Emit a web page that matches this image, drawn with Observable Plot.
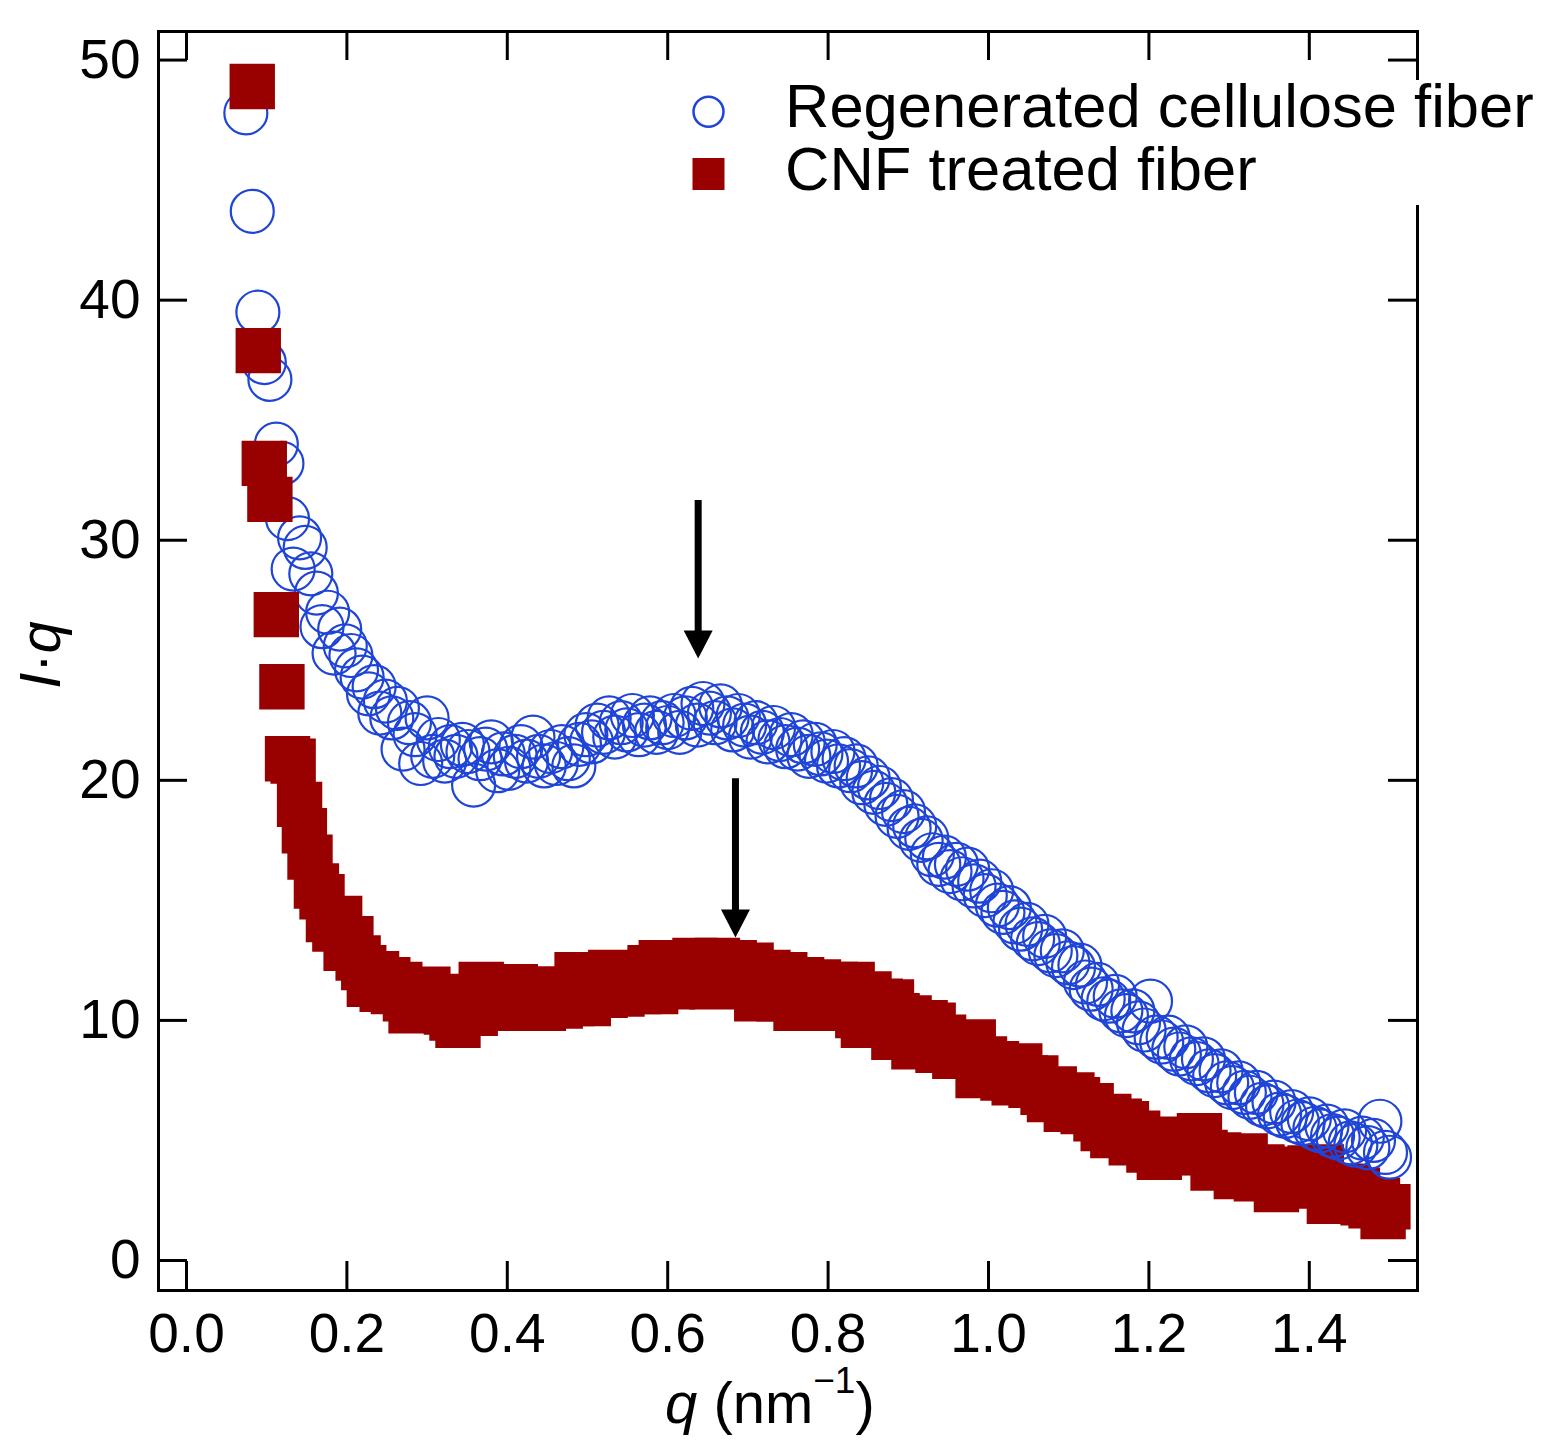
<!DOCTYPE html>
<html>
<head>
<meta charset="utf-8">
<script src="https://cdn.jsdelivr.net/npm/d3@7"></script>
<script src="https://cdn.jsdelivr.net/npm/@observablehq/plot@0.6"></script>
<style>
  html, body { margin: 0; padding: 0; background: #fff; }
</style>
</head>
<body>
<div id="chart"></div>
<script>
// ---------- data ----------
const seriesNames = ["Regenerated cellulose fiber", "CNF treated fiber"];
const xTicks = [0, 0.2, 0.4, 0.6, 0.8, 1.0, 1.2, 1.4];
const yTicks = [0, 10, 20, 30, 40, 50];

// Regenerated cellulose fiber: [q, I·q]
const regeneratedSeries = [
[0.074,47.8],[0.082,43.7],[0.089,39.5],[0.097,37.4],[0.104,36.7],[0.112,34.0],[0.119,33.2],[0.126,30.9],
[0.133,28.8],[0.141,30.1],[0.148,29.7],[0.155,28.6],[0.162,27.8],[0.169,26.4],[0.176,27.0],[0.184,25.3],
[0.191,26.3],[0.198,25.6],[0.205,25.2],[0.212,24.6],[0.219,24.3],[0.227,23.6],[0.234,23.9],[0.241,22.8],
[0.248,23.3],[0.256,22.6],[0.263,23.0],[0.27,21.3],[0.278,22.4],[0.285,21.9],[0.292,20.7],[0.3,22.6],
[0.307,21.0],[0.314,21.7],[0.322,20.8],[0.329,21.4],[0.336,21.0],[0.344,21.5],[0.351,21.2],[0.358,19.8],
[0.366,20.9],[0.373,21.3],[0.38,21.6],[0.388,20.4],[0.395,21.1],[0.402,20.5],[0.41,21.0],[0.417,21.4],
[0.424,20.8],[0.432,21.8],[0.439,21.0],[0.446,20.6],[0.454,21.2],[0.461,20.7],[0.468,21.4],[0.476,20.9],
[0.483,20.6],[0.49,21.5],[0.498,21.9],[0.505,21.6],[0.512,22.3],[0.52,22.0],[0.527,22.6],[0.534,21.8],
[0.542,22.4],[0.549,22.1],[0.556,22.7],[0.564,21.9],[0.571,22.3],[0.578,22.6],[0.586,22.0],[0.593,22.4],
[0.6,22.2],[0.608,22.7],[0.615,22.0],[0.622,22.6],[0.63,23.0],[0.637,22.3],[0.644,23.2],[0.652,22.8],
[0.659,22.4],[0.666,23.1],[0.674,22.6],[0.681,22.1],[0.688,22.7],[0.696,22.3],[0.703,21.8],[0.71,22.4],
[0.718,22.0],[0.725,21.6],[0.732,22.2],[0.74,21.7],[0.747,21.4],[0.754,21.9],[0.762,21.3],[0.769,21.6],
[0.776,21.0],[0.784,21.5],[0.791,21.1],[0.798,20.8],[0.806,21.2],[0.813,20.6],[0.82,20.9],[0.828,20.4],
[0.835,20.6],[0.842,19.9],[0.85,20.1],[0.857,19.5],[0.864,19.7],[0.872,19.0],[0.879,19.2],[0.886,18.5],
[0.894,18.7],[0.901,18.0],[0.908,18.1],[0.916,17.5],[0.923,17.6],[0.93,16.9],[0.938,16.5],[0.945,16.8],
[0.952,16.2],[0.96,16.5],[0.967,15.9],[0.974,16.3],[0.982,15.6],[0.989,15.8],[0.996,15.2],[1.004,15.4],
[1.011,14.8],[1.018,14.5],[1.026,14.7],[1.033,14.1],[1.04,13.8],[1.048,14.0],[1.055,13.4],[1.062,13.2],
[1.07,13.5],[1.077,12.9],[1.084,12.7],[1.092,12.9],[1.099,12.4],[1.106,12.2],[1.114,12.3],[1.121,11.6],
[1.128,11.3],[1.136,11.5],[1.143,10.9],[1.15,10.8],[1.158,11.0],[1.165,10.4],[1.172,10.2],[1.18,10.4],
[1.187,9.9],[1.194,9.6],[1.202,10.8],[1.209,9.3],[1.216,9.1],[1.224,9.3],[1.231,8.8],[1.238,8.6],
[1.246,8.9],[1.253,8.4],[1.26,8.2],[1.268,8.4],[1.275,7.9],[1.282,7.7],[1.29,7.9],[1.297,7.4],
[1.304,7.2],[1.312,7.4],[1.319,7.0],[1.326,6.8],[1.334,7.0],[1.341,6.5],[1.348,6.4],[1.356,6.6],
[1.363,6.1],[1.37,6.0],[1.378,6.2],[1.385,5.8],[1.392,5.7],[1.4,5.9],[1.407,5.5],[1.414,5.4],
[1.422,5.6],[1.429,5.2],[1.436,5.1],[1.444,5.4],[1.451,4.9],[1.458,4.8],[1.466,5.1],[1.473,4.7],
[1.48,5.0],[1.488,5.8],[1.495,4.5],[1.5,4.3]
];

// CNF treated fiber: [q, I·q]
const cnfSeries = [
[0.082,48.9],[0.0895,37.9],[0.097,33.2],[0.104,31.7],[0.112,26.9],[0.119,23.9],[0.126,20.9],[0.133,20.8],
[0.141,19.0],[0.147,17.9],[0.154,16.8],[0.162,15.6],[0.169,15.15],[0.177,14.2],[0.185,13.8],[0.191,14.25],
[0.199,13.0],[0.205,13.4],[0.214,12.6],[0.221,12.2],[0.228,11.5],[0.237,11.95],[0.244,11.3],[0.251,11.7],
[0.258,11.2],[0.266,11.5],[0.273,10.9],[0.28,10.4],[0.287,11.0],[0.294,10.6],[0.301,11.3],[0.308,10.5],
[0.316,10.9],[0.324,10.35],[0.331,10.1],[0.3385,9.8],[0.345,10.5],[0.352,11.0],[0.36,10.3],[0.3675,11.5],
[0.375,10.8],[0.382,11.2],[0.389,10.5],[0.396,11.3],[0.403,10.6],[0.41,11.4],[0.417,10.5],[0.424,11.2],
[0.431,10.8],[0.438,11.3],[0.445,10.5],[0.452,11.0],[0.459,11.3],[0.466,10.6],[0.473,11.1],[0.48,10.7],
[0.487,11.9],[0.494,11.2],[0.501,10.7],[0.508,11.9],[0.515,11.4],[0.522,11.05],[0.529,12.0],[0.536,11.5],
[0.543,11.1],[0.55,11.9],[0.557,11.3],[0.564,11.2],[0.571,11.6],[0.578,12.2],[0.585,11.2],[0.592,12.4],
[0.599,11.6],[0.606,11.4],[0.613,12.4],[0.62,11.7],[0.627,12.0],[0.634,12.5],[0.641,11.7],[0.648,12.1],
[0.655,11.4],[0.662,12.5],[0.669,11.9],[0.676,11.5],[0.683,12.4],[0.69,12.0],[0.697,11.5],[0.704,12.3],
[0.711,10.9],[0.718,11.9],[0.725,12.0],[0.732,11.3],[0.739,10.9],[0.746,11.9],[0.753,11.2],[0.76,10.5],
[0.767,11.7],[0.774,11.1],[0.781,10.6],[0.788,11.6],[0.795,11.0],[0.802,10.5],[0.809,11.5],[0.816,11.0],
[0.823,10.6],[0.83,11.5],[0.837,10.2],[0.844,9.8],[0.851,11.1],[0.858,10.4],[0.865,10.8],[0.872,9.9],
[0.879,10.77],[0.882,9.3],[0.886,10.2],[0.893,9.6],[0.901,10.1],[0.907,8.9],[0.914,9.4],[0.921,9.9],
[0.931,9.8],[0.937,8.75],[0.944,9.3],[0.951,9.0],[0.958,8.5],[0.965,9.0],[0.972,8.6],[0.981,9.1],
[0.987,7.7],[0.995,8.4],[1.002,8.0],[1.01,8.2],[1.018,7.6],[1.025,7.9],[1.032,7.4],[1.039,8.1],
[1.046,7.6],[1.053,7.3],[1.059,7.6],[1.068,7.0],[1.076,6.7],[1.082,7.15],[1.09,6.8],[1.097,6.3],
[1.104,6.9],[1.111,6.7],[1.118,6.2],[1.128,6.45],[1.134,5.9],[1.143,5.5],[1.15,6.0],[1.155,5.2],
[1.163,5.8],[1.172,5.7],[1.178,4.9],[1.186,5.3],[1.193,5.0],[1.2,4.6],[1.207,5.05],[1.213,4.3],
[1.221,4.8],[1.228,4.5],[1.235,4.9],[1.242,4.5],[1.249,4.9],[1.256,4.6],[1.263,5.2],[1.27,4.5],
[1.28,3.85],[1.287,4.4],[1.294,4.0],[1.301,4.3],[1.309,3.5],[1.316,4.1],[1.32,4.35],[1.327,3.7],
[1.334,3.4],[1.341,3.9],[1.348,3.6],[1.359,2.95],[1.366,3.5],[1.373,3.8],[1.38,3.3],[1.387,3.6],
[1.394,3.1],[1.401,3.85],[1.408,3.3],[1.415,3.9],[1.425,2.46],[1.432,3.0],[1.439,2.7],[1.446,3.1],
[1.453,2.7],[1.46,2.93],[1.467,2.4],[1.477,2.28],[1.485,2.5],[1.492,1.83],[1.498,2.24]
];

// Arrows marking the peaks: q position, start value, tip value
const arrowQ    = [0.638, 0.6845];
const arrowFrom = [31.65, 20.07];
const arrowTip  = [25.07, 13.45];

// ---------- build tables ----------
const regenerated = regeneratedSeries.map(([q, v]) => ({q, v}));
const cnf = cnfSeries.map(([q, v]) => ({q, v}));
const arrows = arrowQ.map((q, i) => ({q, from: arrowFrom[i], tip: arrowTip[i]}));

// ---------- layout ----------
const W = 1555, H = 1455;
const mL = 158, mR = 138, mT = 31, mB = 165;
const innerW = W - mL - mR, innerH = H - mT - mB;
const TICK = 29;
const FONT = "'Liberation Sans', Arial, Helvetica, sans-serif";
const BLUE = "#1e44d8", RED = "#990000";

const downTriangle = {
  draw(ctx) { ctx.moveTo(0, 0); ctx.lineTo(-14.5, -28); ctx.lineTo(14.5, -28); ctx.closePath(); }
};

function decor(index, scales, values, dims) {
  const g = d3.create("svg:g").attr("font-family", FONT).attr("fill", "black").attr("text-anchor", "start");
  // legend (white box hides part of the right frame, as in the reference)
  g.append("rect").attr("x", 682).attr("y", 80).attr("width", W - 682).attr("height", 125).attr("fill", "white");
  g.append("circle").attr("cx", 708.5).attr("cy", 111.7).attr("r", 15).attr("fill", "none")
    .attr("stroke", BLUE).attr("stroke-width", 2.5);
  g.append("rect").attr("x", 692.5).attr("y", 158).attr("width", 32).attr("height", 32).attr("fill", RED);
  g.append("text").attr("x", 785).attr("y", 126.7).attr("font-size", 61.5).attr("text-anchor", "start").text(seriesNames[0]);
  g.append("text").attr("x", 785).attr("y", 190).attr("font-size", 61.5).attr("text-anchor", "start").text(seriesNames[1]);
  // y label  I·q
  const yl = g.append("text").attr("transform", "translate(60,655) rotate(-90)")
    .attr("text-anchor", "middle").attr("font-size", 58);
  yl.append("tspan").attr("font-style", "italic").text("I");
  yl.append("tspan").text("·");
  yl.append("tspan").attr("font-style", "italic").text("q");
  // x label  q (nm^-1)
  const xl = g.append("text").attr("x", 665).attr("y", 1423).attr("font-size", 58).attr("text-anchor", "start");
  xl.append("tspan").attr("font-style", "italic").text("q");
  xl.append("tspan").text(" (nm");
  xl.append("tspan").attr("font-size", 37).attr("dy", -30).text("\u22121");
  xl.append("tspan").attr("dy", 30).text(")");
  return g.node();
}

const chart = Plot.plot({
  width: W,
  height: H,
  marginLeft: mL, marginRight: mR, marginTop: mT, marginBottom: mB,
  style: {fontFamily: FONT, fontSize: "55px", color: "black", background: "white", overflow: "visible"},
  x: {domain: [-0.0349, 1.5349], axis: null},
  y: {domain: [-1.25, 51.19], axis: null},
  marks: [
    // data: CNF tail under the circles, circles, then CNF head on top
    Plot.dot(cnf, {filter: d => d.q >= 1.0, x: "q", y: "v", symbol: "square", r: 25.6, fill: RED, stroke: "none"}),
    Plot.dot(regenerated, {x: "q", y: "v", r: 21.5, fill: "none", stroke: BLUE, strokeWidth: 2.2}),
    Plot.dot(cnf, {filter: d => d.q < 1.0, x: "q", y: "v", symbol: "square", r: 25.6, fill: RED, stroke: "none"}),
    // arrows
    Plot.ruleX(arrows, {x: "q", y1: "from", y2: "tip", insetBottom: 20, stroke: "black", strokeWidth: 7}),
    Plot.dot(arrows, {x: "q", y: "tip", symbol: downTriangle, fill: "black", stroke: "none"}),
    // frame and inward ticks on all sides
    Plot.frame({stroke: "black", strokeWidth: 3}),
    Plot.ruleX(xTicks, {insetTop: innerH - TICK, stroke: "black", strokeWidth: 3}),
    Plot.ruleX(xTicks, {insetBottom: innerH - TICK, stroke: "black", strokeWidth: 3}),
    Plot.ruleY(yTicks, {insetRight: innerW - TICK, stroke: "black", strokeWidth: 3}),
    Plot.ruleY(yTicks, {insetLeft: innerW - TICK, stroke: "black", strokeWidth: 3}),
    // tick labels
    Plot.axisX({ticks: xTicks, tickSize: 0, tickPadding: 22, tickFormat: d3.format(".1f"), label: null, fontSize: 55}),
    Plot.axisY({ticks: yTicks, tickSize: 0, tickPadding: 18, tickFormat: d3.format("d"), label: null, fontSize: 55}),
    decor
  ]
});
document.getElementById("chart").appendChild(chart);
</script>
</body>
</html>
